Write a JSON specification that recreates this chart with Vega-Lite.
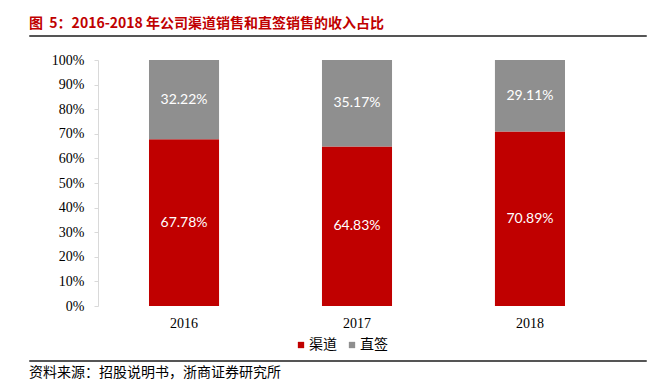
{
  "$schema": "https://vega.github.io/schema/vega-lite/v6.json",
  "padding": {"left": 28, "top": 16, "right": 0, "bottom": 0},
  "background": "white",
  "spacing": 16,
  "resolve": {"scale": {"x": "independent", "y": "independent"}},
  "config": {"view": {"stroke": null}},
  "datasets": {
    "share": [
      {"year": "2016", "type": "渠道", "value": 0.6778},
      {"year": "2016", "type": "直签", "value": 0.3222},
      {"year": "2017", "type": "渠道", "value": 0.6483},
      {"year": "2017", "type": "直签", "value": 0.3517},
      {"year": "2018", "type": "渠道", "value": 0.7089},
      {"year": "2018", "type": "直签", "value": 0.2911}
    ],
    "line": [{"k": 1}]
  },
  "vconcat": [
    {
      "title": {"text": "图\u00a0\u00a05：2016-2018 年公司渠道销售和直签销售的收入占比", "anchor": "start", "font": "Noto Sans CJK SC", "fontSize": 14, "fontWeight": "bold", "color": "#C00000", "offset": 4},
      "width": 617,
      "height": 1,
      "view": {"stroke": "#555555", "strokeWidth": 1},
      "data": {"name": "line"},
      "mark": {"type": "rule", "opacity": 0},
      "encoding": {"y": {"datum": 1, "type": "quantitative", "scale": {"domain": [0, 1]}, "axis": null}}
    },
    {
      "width": 617,
      "height": 246,
      "data": {"name": "share"},
      "encoding": {
        "x": {"field": "year", "type": "nominal", "scale": {"paddingInner": 0.595, "paddingOuter": 0.581, "align": 0.597},
          "axis": {"title": null, "labelAngle": 0, "ticks": false, "domain": false, "labelFont": "Liberation Serif", "labelFontSize": 14, "labelColor": "#000000", "labelPadding": 10, "minExtent": 37}},
        "y": {"field": "value", "type": "quantitative", "stack": "zero", "scale": {"domain": [0, 1]},
          "axis": {"title": null, "offset": -69, "format": ".0%", "values": [0, 0.1, 0.2, 0.3, 0.4, 0.5, 0.6, 0.7, 0.8, 0.9, 1], "grid": false, "domainColor": "#D9D9D9", "tickColor": "#D9D9D9", "tickSize": 4, "labelPadding": 10, "labelFont": "Liberation Serif", "labelFontSize": 14, "labelColor": "#000000"}}
      },
      "layer": [
        {
          "mark": {"type": "bar"},
          "encoding": {
            "color": {"field": "type", "type": "nominal", "scale": {"domain": ["渠道", "直签"], "range": ["#C00000", "#8F8F8F"]},
              "legend": {"title": null, "orient": "none", "direction": "horizontal", "legendX": 265, "legendY": 303, "symbolType": "square", "symbolSize": 40, "labelFont": "Noto Sans CJK SC", "labelFontSize": 14, "labelColor": "#000000", "labelOffset": 1, "columnPadding": 8, "padding": 0}},
            "order": {"field": "type", "sort": "ascending"}
          }
        },
        {
          "mark": {"type": "text", "color": "#FFFFFF", "font": "Lato", "fontSize": 14},
          "encoding": {
            "y": {"field": "value", "type": "quantitative", "stack": "zero", "bandPosition": 0.5},
            "text": {"field": "value", "type": "quantitative", "format": ".2%"},
            "detail": {"field": "type"},
            "order": {"field": "type", "sort": "ascending"}
          }
        }
      ]
    },
    {
      "title": {"text": "资料来源：招股说明书，浙商证券研究所", "orient": "bottom", "anchor": "start", "font": "Noto Sans CJK SC", "fontSize": 14, "fontWeight": "normal", "color": "#000000", "offset": 5},
      "width": 617,
      "height": 1,
      "view": {"stroke": "#555555", "strokeWidth": 1},
      "data": {"name": "line"},
      "mark": {"type": "rule", "opacity": 0},
      "encoding": {"y": {"datum": 1, "type": "quantitative", "scale": {"domain": [0, 1]}, "axis": null}}
    }
  ]
}
